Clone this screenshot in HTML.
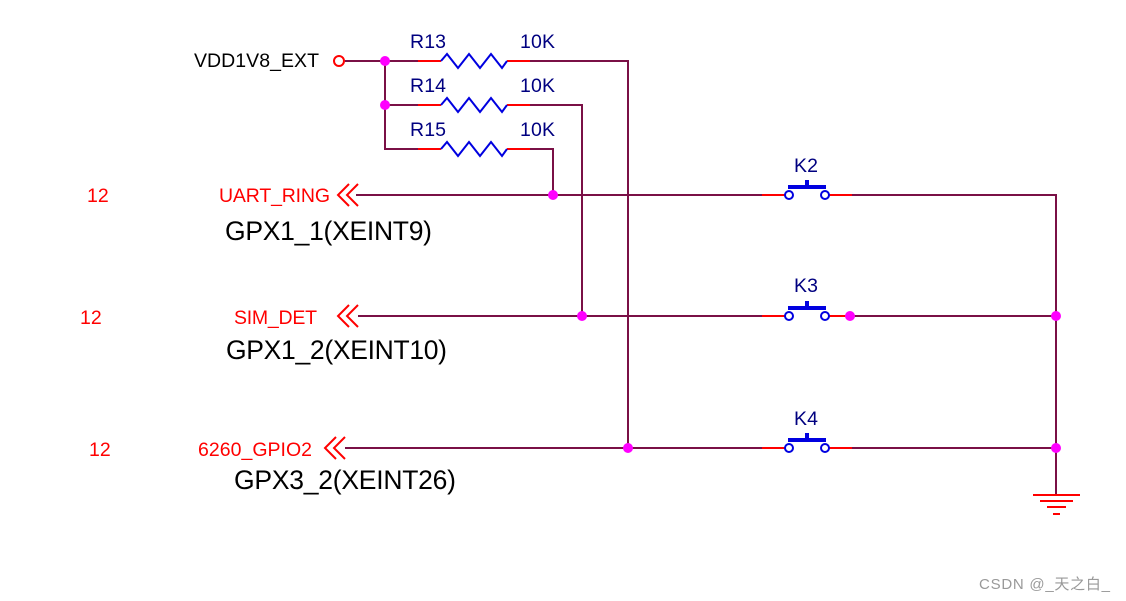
<!DOCTYPE html>
<html><head><meta charset="utf-8"><style>
html,body{margin:0;padding:0;background:#fff;width:1126px;height:601px;overflow:hidden}
svg{display:block}
text{font-family:"Liberation Sans","Noto Sans CJK SC",sans-serif}
</style></head><body>
<svg width="1126" height="601" viewBox="0 0 1126 601" xmlns="http://www.w3.org/2000/svg">
<g stroke="#7a1046" stroke-width="2" fill="none">
<path d="M345 61H418M530 61H628V448"/>
<path d="M385 61V149H418M385 105H418"/>
<path d="M530 105H582V316"/>
<path d="M530 149H553V195"/>
<path d="M356 195H762M852 195H1056V495"/>
<path d="M358 316H762M852 316H1056"/>
<path d="M345 448H762M852 448H1056"/>
</g>
<g stroke="#ff0000" stroke-width="2" fill="none">
<path d="M418 61H441M507 61H530M418 105H441M507 105H530M418 149H441M507 149H530"/>
<path d="M762 195H785M829 195H852M762 316H785M829 316H852M762 448H785M829 448H852"/>
<circle cx="339" cy="61" r="5"/>
<path d="M1033 495H1080M1040 501H1073M1047 507H1066M1053 514H1060"/>
<path d="M358 184L347 195L358 206M349 184L338 195L349 206"/>
<path d="M358 305L347 316L358 327M349 305L338 316L349 327"/>
<path d="M345 437L334 448L345 459M336 437L325 448L336 459"/>
</g>
<g stroke="#0000e0" stroke-width="2" fill="none">
<path d="M441 61L447 54L458 68L469 54L480 68L491 54L502 68L507 61"/>
<path d="M441 105L447 98L458 112L469 98L480 112L491 98L502 112L507 105"/>
<path d="M441 149L447 142L458 156L469 142L480 156L491 142L502 156L507 149"/>
</g>
<g fill="#0000e0">
<rect x="788" y="185" width="38" height="4"/><rect x="805" y="180" width="4" height="6"/>
<rect x="788" y="306" width="38" height="4"/><rect x="805" y="301" width="4" height="6"/>
<rect x="788" y="438" width="38" height="4"/><rect x="805" y="433" width="4" height="6"/>
</g>
<g stroke="#0000e0" stroke-width="2" fill="#fff">
<circle cx="789" cy="195" r="4"/><circle cx="825" cy="195" r="4"/>
<circle cx="789" cy="316" r="4"/><circle cx="825" cy="316" r="4"/>
<circle cx="789" cy="448" r="4"/><circle cx="825" cy="448" r="4"/>
</g>
<g fill="#ff00ff">
<circle cx="385" cy="61" r="5"/><circle cx="385" cy="105" r="5"/>
<circle cx="553" cy="195" r="5"/><circle cx="582" cy="316" r="5"/>
<circle cx="850" cy="316" r="5"/><circle cx="1056" cy="316" r="5"/>
<circle cx="628" cy="448" r="5"/><circle cx="1056" cy="448" r="5"/>
</g>
<g fill="#000080" font-size="19.5">
<text x="410" y="48" textLength="36">R13</text><text x="520" y="48" textLength="35">10K</text>
<text x="410" y="92" textLength="36">R14</text><text x="520" y="92" textLength="35">10K</text>
<text x="410" y="136" textLength="36">R15</text><text x="520" y="136" textLength="35">10K</text>
<text x="794" y="172" textLength="24">K2</text><text x="794" y="292" textLength="24">K3</text><text x="794" y="425" textLength="24">K4</text>
</g>
<text x="194" y="67" font-size="19.5" fill="#000" textLength="125">VDD1V8_EXT</text>
<g fill="#ff0000" font-size="19.5">
<text x="87" y="202">12</text><text x="80" y="324">12</text><text x="89" y="456">12</text>
<text x="219" y="202" textLength="111">UART_RING</text>
<text x="234" y="324" textLength="83">SIM_DET</text>
<text x="198" y="456" textLength="114">6260_GPIO2</text>
</g>
<g fill="#000" font-size="26.5">
<text x="225" y="240" textLength="207">GPX1_1(XEINT9)</text>
<text x="226" y="359" textLength="221">GPX1_2(XEINT10)</text>
<text x="234" y="489" textLength="222">GPX3_2(XEINT26)</text>
</g>
<text x="979" y="589" font-size="15" fill="#999" textLength="131">CSDN @_天之白_</text>
</svg>
</body></html>
